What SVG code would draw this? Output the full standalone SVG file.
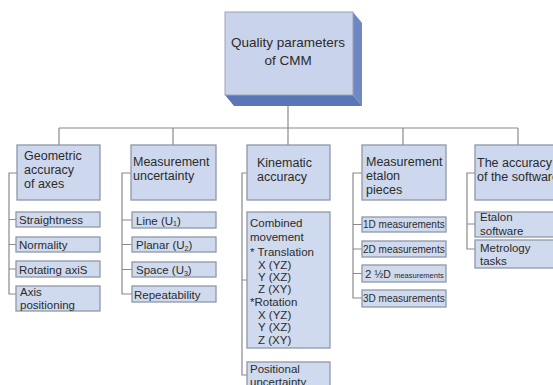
<svg xmlns="http://www.w3.org/2000/svg" width="553" height="385" viewBox="0 0 553 385">
  <style>
    .box { fill: #cdd8ee; stroke: #8f98a6; stroke-width: 1.3; }
    .sub { fill: #d0daee; stroke: #8f98a6; stroke-width: 1.3; }
    .link { fill: none; stroke: #8a8a8a; stroke-width: 1.2; }
    text { font-family: "Liberation Sans", Arial, sans-serif; fill: #2b2b2b; }
    .t1 { font-size: 13.5px; }
    .t2 { font-size: 12.5px; }
    .t3 { font-size: 11.5px; }
    .t4 { font-size: 10px; }
    .sm { font-size: 7.5px; }
    .subs { font-size: 7px; }
  </style>
  <rect width="553" height="385" fill="#ffffff"/>

  <!-- connectors -->
  <g id="connectors" class="link">
    <path d="M288 106 V128 M59 128 H518 M59 128 V145 M173 128 V145 M288 128 V145 M403 128 V145 M518 128 V145"/>
    <path d="M17 173 H9 V294 H16 M9 219.5 H16 M9 244.5 H16 M9 269 H16"/>
    <path d="M131 173 H122 V294 H132 M122 220 H132 M122 244.5 H132 M122 269.5 H132"/>
    <path d="M247 173 H242 V375 H247 M242 280 H247"/>
    <path d="M362 173 H353 V298 H362 M353 224.5 H362 M353 249 H362 M353 273.5 H362"/>
    <path d="M475 173 H467 V249 H475 M467 224 H475"/>
  </g>

  <!-- root -->
  <g id="root">
    <polygon points="353,12 362,23 362,106 353,95" fill="#6f88c4"/>
    <polygon points="225,95 234,106 362,106 353,95" fill="#5b76b6"/>
    <rect x="225" y="12" width="128" height="83" fill="#c9d4ec" stroke="#9aa3b5" stroke-width="1"/>
    <text class="t1" x="288" y="47" text-anchor="middle">Quality parameters</text>
    <text class="t1" x="288" y="65" text-anchor="middle">of CMM</text>
  </g>

  <!-- column 1 -->
  <g id="geometric">
    <rect class="box" x="17" y="145" width="83" height="55"/>
    <text class="t2" x="24" y="160">Geometric</text>
    <text class="t2" x="24" y="174">accuracy</text>
    <text class="t2" x="24" y="188">of axes</text>
  </g>
  <g id="straightness">
    <rect class="sub" x="16" y="212" width="84" height="15"/>
    <text class="t3" x="19" y="224">Straightness</text>
  </g>
  <g id="normality">
    <rect class="sub" x="16" y="237" width="84" height="15"/>
    <text class="t3" x="19" y="249">Normality</text>
  </g>
  <g id="rotating-axis">
    <rect class="sub" x="16" y="261" width="84" height="16"/>
    <text class="t3" x="19" y="273.5">Rotating axiS</text>
  </g>
  <g id="axis-positioning">
    <rect class="sub" x="16" y="286" width="84" height="25"/>
    <text class="t3" x="20" y="296">Axis</text>
    <text class="t3" x="20" y="309">positioning</text>
  </g>

  <!-- column 2 -->
  <g id="uncertainty">
    <rect class="box" x="131" y="145" width="85" height="55"/>
    <text class="t2" x="133" y="166">Measurement</text>
    <text class="t2" x="133" y="180">uncertainty</text>
  </g>
  <g id="line-u1">
    <rect class="sub" x="132" y="212" width="84" height="16"/>
    <text class="t3" x="136" y="224.5">Line (U<tspan class="subs" dy="1.5">1</tspan><tspan dy="-1.5">)</tspan></text>
  </g>
  <g id="planar-u2">
    <rect class="sub" x="132" y="237" width="84" height="15"/>
    <text class="t3" x="136" y="249">Planar (U<tspan class="subs" dy="1.5">2</tspan><tspan dy="-1.5">)</tspan></text>
  </g>
  <g id="space-u3">
    <rect class="sub" x="132" y="262" width="84" height="15"/>
    <text class="t3" x="136" y="274">Space (U<tspan class="subs" dy="1.5">3</tspan><tspan dy="-1.5">)</tspan></text>
  </g>
  <g id="repeatability">
    <rect class="sub" x="132" y="286" width="84" height="16"/>
    <text class="t3" x="134" y="298.5">Repeatability</text>
  </g>

  <!-- column 3 -->
  <g id="kinematic">
    <rect class="box" x="247" y="145" width="83" height="55"/>
    <text class="t2" x="257" y="167">Kinematic</text>
    <text class="t2" x="257" y="181">accuracy</text>
  </g>
  <g id="combined-movement">
    <rect class="sub" x="247" y="212" width="83" height="136"/>
    <text class="t3" x="250" y="227">Combined</text>
    <text class="t3" x="250" y="241">movement</text>
    <text class="t3" x="250" y="256">* Translation</text>
    <text class="t3" x="258" y="269">X (YZ)</text>
    <text class="t3" x="258" y="281">Y (XZ)</text>
    <text class="t3" x="258" y="293">Z (XY)</text>
    <text class="t3" x="250" y="306">*Rotation</text>
    <text class="t3" x="258" y="319">X (YZ)</text>
    <text class="t3" x="258" y="331">Y (XZ)</text>
    <text class="t3" x="258" y="344">Z (XY)</text>
  </g>
  <g id="positional-uncertainty">
    <rect class="sub" x="247" y="362" width="83" height="30"/>
    <text class="t3" x="250" y="373">Positional</text>
    <text class="t3" x="250" y="386">uncertainty</text>
  </g>

  <!-- column 4 -->
  <g id="etalon-pieces">
    <rect class="box" x="362" y="145" width="84" height="55"/>
    <text class="t2" x="366" y="166">Measurement</text>
    <text class="t2" x="366" y="180">etalon</text>
    <text class="t2" x="366" y="194">pieces</text>
  </g>
  <g id="m1d">
    <rect class="sub" x="362" y="217" width="84" height="15"/>
    <text class="t4" x="363" y="228">1D measurements</text>
  </g>
  <g id="m2d">
    <rect class="sub" x="362" y="241" width="84" height="16"/>
    <text class="t4" x="363" y="253">2D measurements</text>
  </g>
  <g id="m25d">
    <rect class="sub" x="362" y="265" width="84" height="17"/>
    <text class="t3" x="365" y="277.5">2 <tspan font-size="10.5px">½D</tspan> <tspan class="sm">measurements</tspan></text>
  </g>
  <g id="m3d">
    <rect class="sub" x="362" y="290" width="84" height="17"/>
    <text class="t4" x="363" y="302">3D measurements</text>
  </g>

  <!-- column 5 -->
  <g id="software-accuracy">
    <rect class="box" x="475" y="145" width="84" height="55"/>
    <text class="t2" x="477" y="167">The accuracy</text>
    <text class="t2" x="477" y="181">of the software</text>
  </g>
  <g id="etalon-software">
    <rect class="sub" x="475" y="212" width="84" height="25"/>
    <text class="t3" x="480" y="221">Etalon</text>
    <text class="t3" x="480" y="235">software</text>
  </g>
  <g id="metrology-tasks">
    <rect class="sub" x="475" y="240" width="84" height="28"/>
    <text class="t3" x="480" y="252">Metrology</text>
    <text class="t3" x="480" y="265">tasks</text>
  </g>
</svg>
